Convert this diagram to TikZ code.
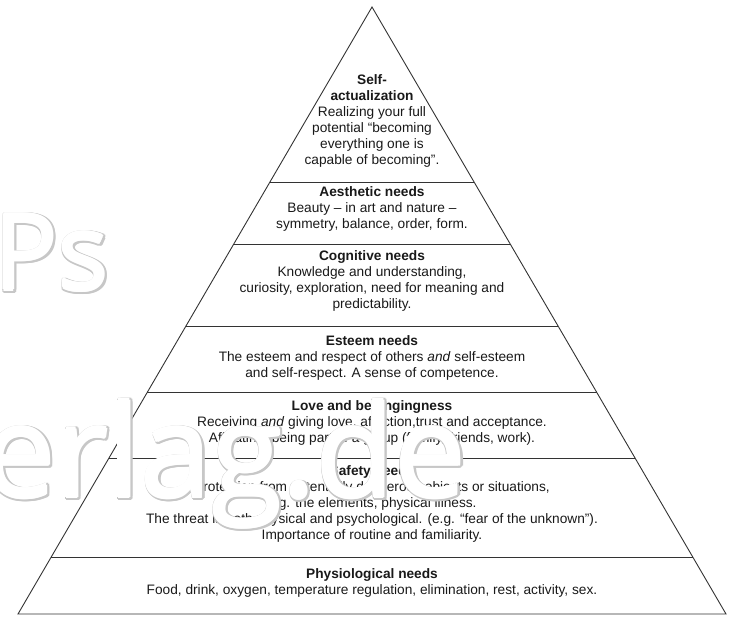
\documentclass[tikz,border=0pt]{standalone}
\usepackage{fontspec}
\setmainfont{Liberation Sans}
\newfontfamily\wmfont{Open Sans}
\usetikzlibrary{calc}

\tikzset{
	level/.style={line width=0.9pt,draw=black!80},
	needtext/.style={align=center,inner sep=0pt,text=black!90,
		font=\fontsize{13.7}{16}\selectfont},
	wmark/.style={inner sep=0pt,anchor=base west,font=\wmfont}
}

\begin{document}
\begin{tikzpicture}[x=1pt,y=-1pt]
	\useasboundingbox (0,0) rectangle (731,620);
	\clip (0,0) rectangle (731,620);
	% outline of the pyramid
	\coordinate (apex) at (372,7);
	\coordinate (bl) at (18,614);
	\coordinate (br) at (726,614);
	\draw[level,line join=miter] (apex) -- (bl) -- (br) -- cycle;
	% dividing lines
	\foreach \name/\t in {a/0.2883,b/0.3904,c/0.5255,d/0.6343,e/0.7430,f/0.9061} {
		\coordinate (l\name) at ($(apex)!\t!(bl)$);
		\coordinate (r\name) at ($(apex)!\t!(br)$);
		\draw[level] (l\name) -- (r\name);
	}
	\begin{scope}[every node/.style={needtext}]
		\node (selfact) at (372,121) {\textbf{Self-}\\\textbf{actualization}\\Realizing your full\\potential “becoming\\everything one is\\capable of becoming”.};
		\node (aesth) at (372,209) {\textbf{Aesthetic needs}\\Beauty – in art and nature –\\symmetry, balance, order, form.};
		\node (cogn) at (372,281) {\textbf{Cognitive needs}\\Knowledge and understanding,\\curiosity, exploration, need for meaning and\\predictability.};
		\node (esteem) at (372,358) {\textbf{Esteem needs}\\The esteem and respect of others \textit{and} self-esteem\\and self-respect. A sense of competence.};
		\node (love) at (372,423) {\textbf{Love and belongingness}\\Receiving \textit{and} giving love, affection,trust and acceptance.\\Affiliating, being part of a group (family, friends, work).};
		\node (safety) at (372,504) {\textbf{Safety needs}\\Protection from potentially dangerous objects or situations,\\e.g. the elements, physical illness.\\The threat is both physical and psychological. (e.g. “fear of the unknown”).\\Importance of routine and familiarity.};
		\node (phys) at (372,583) {\textbf{Physiological needs}\\Food, drink, oxygen, temperature regulation, elimination, rest, activity, sex.};
	\end{scope}
	% watermark on top
	\coordinate (wm1) at (-6,290);
	\coordinate (wm2) at (-16,497);
	\foreach \a in {0,30,...,330} {
		\node[wmark,text=black!22,font=\wmfont\fontsize{106}{106}\selectfont] (psrim\a) at ($(wm1)+(\a:2.6)+(1,1)$) {Ps};
		\node[wmark,text=black!22,font=\wmfont\fontsize{128}{128}\selectfont] (derim\a) at ($(wm2)+(\a:2.6)+(1,1)$) {erlag.de};
	}
	\foreach \a in {0,60,...,300} {
		\node[wmark,text=white,font=\wmfont\fontsize{106}{106}\selectfont] (psfill\a) at ($(wm1)+(\a:1.3)$) {Ps};
		\node[wmark,text=white,font=\wmfont\fontsize{128}{128}\selectfont] (defill\a) at ($(wm2)+(\a:1.3)$) {erlag.de};
	}
\end{tikzpicture}
\end{document}
